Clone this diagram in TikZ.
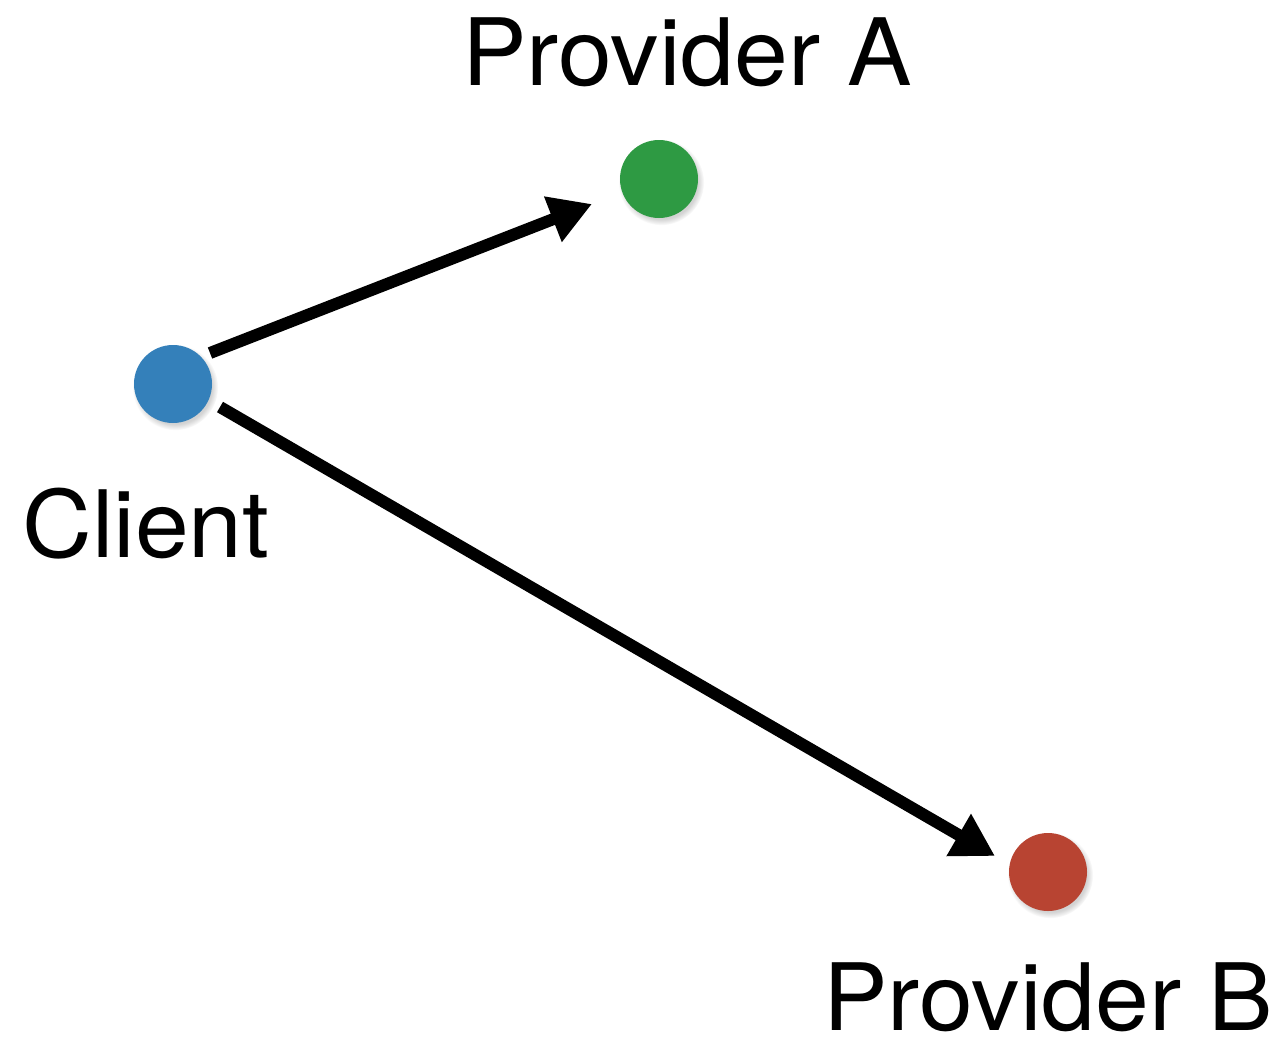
\documentclass[tikz,border=0pt]{standalone}
\usepackage{fontspec}
\setmainfont{TeX Gyre Heros}
\newfontfamily\lblfont[FakeStretch=1.04]{TeX Gyre Heros}
\usetikzlibrary{arrows.meta,shadows}
\definecolor{cblue}{RGB}{52,128,186}
\definecolor{cgreen}{RGB}{46,154,67}
\definecolor{cred}{RGB}{184,68,50}
\tikzset{
  dot/.style={circle,minimum size=78pt,inner sep=0pt,
    circular drop shadow={shadow xshift=2pt,shadow yshift=-3pt,opacity=0.35}},
  lbl/.style={anchor=base,inner sep=0pt,text depth=0pt,font=\lblfont\fontsize{93}{110}\selectfont},
  conn/.style={line width=12pt,-{Triangle[length=42pt,width=46pt]}}
}
\begin{document}
\begin{tikzpicture}[x=1pt,y=-1pt]
\useasboundingbox (0,0) rectangle (1282,1039);
\node[dot,fill=cblue] (client) at (173,384) {};
\node[dot,fill=cgreen] (pa) at (659,179) {};
\node[dot,fill=cred] (pb) at (1048,872) {};
\node[lbl] (lc) at (146,557) {Client};
\node[lbl] (lpa) at (687,85) {Provider A};
\node[lbl] (lpb) at (1048,1030) {Provider B};
\coordinate (s1) at (210,353);
\coordinate (e1) at (592,204);
\coordinate (s2) at (220,407);
\coordinate (e2) at (995,856);
\draw[conn] (s1) -- (e1);
\draw[conn] (s2) -- (e2);
\end{tikzpicture}
\end{document}
